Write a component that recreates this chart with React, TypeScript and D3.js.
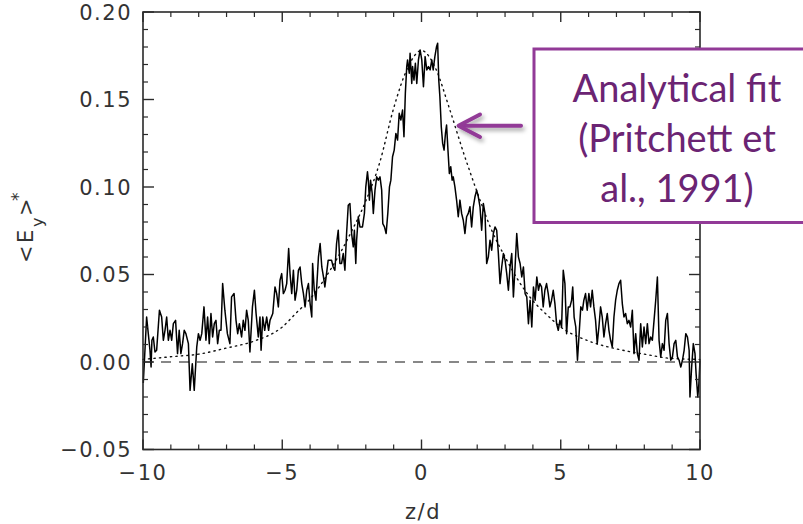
import React from 'react';
import * as d3 from 'd3';

// Simulated <E_y>* profile (z/d, value)
const zSim = [-9.99,-9.93,-9.87,-9.81,-9.75,-9.71,-9.68,-9.63,-9.57,-9.51,-9.41,-9.33,-9.27,-9.21,-9.15,-9.09,-9.03,-8.97,-8.91,-8.83,-8.76,-8.70,-8.64,-8.58,-8.52,-8.46,-8.37,-8.31,-8.23,-8.16,-8.07,-8.01,-7.95,-7.89,-7.81,-7.74,-7.68,-7.62,-7.56,-7.50,-7.44,-7.38,-7.32,-7.26,-7.20,-7.14,-7.06,-6.97,-6.88,-6.82,-6.73,-6.66,-6.60,-6.54,-6.46,-6.40,-6.34,-6.28,-6.22,-6.16,-6.07,-6.00,-5.94,-5.86,-5.80,-5.76,-5.70,-5.63,-5.56,-5.49,-5.44,-5.34,-5.26,-5.20,-5.14,-5.08,-5.02,-4.96,-4.90,-4.84,-4.77,-4.72,-4.66,-4.60,-4.54,-4.48,-4.42,-4.36,-4.30,-4.24,-4.18,-4.12,-4.06,-4.00,-3.94,-3.91,-3.85,-3.79,-3.70,-3.64,-3.58,-3.52,-3.47,-3.41,-3.35,-3.29,-3.23,-3.17,-3.11,-3.05,-2.99,-2.93,-2.87,-2.81,-2.75,-2.69,-2.63,-2.57,-2.51,-2.45,-2.41,-2.36,-2.33,-2.27,-2.21,-2.12,-2.05,-2.00,-1.94,-1.91,-1.87,-1.83,-1.77,-1.73,-1.67,-1.61,-1.55,-1.49,-1.43,-1.39,-1.33,-1.27,-1.21,-1.15,-1.10,-1.04,-0.98,-0.92,-0.86,-0.80,-0.74,-0.68,-0.63,-0.58,-0.53,-0.50,-0.44,-0.41,-0.35,-0.32,-0.27,-0.22,-0.17,-0.11,-0.05,0.01,0.07,0.13,0.19,0.25,0.31,
0.37,0.42,0.48,0.54,0.58,0.62,0.66,0.71,0.76,0.81,0.86,0.90,0.95,1.00,1.05,1.10,1.14,1.20,1.26,1.32,1.38,1.44,1.50,1.56,1.62,1.68,1.74,1.80,1.86,1.92,1.98,2.04,2.10,2.16,2.22,2.28,2.34,2.40,2.46,2.52,2.58,2.64,2.70,2.76,2.82,2.88,2.94,3.00,3.06,3.12,3.18,3.24,3.30,3.36,3.42,3.48,3.54,3.60,3.66,3.72,3.78,3.84,3.90,3.96,4.02,4.08,4.14,4.20,4.25,4.31,4.37,4.43,4.49,4.55,4.61,4.67,4.73,4.79,4.85,4.91,4.97,5.03,5.09,5.15,5.21,5.27,5.33,5.39,5.43,5.48,5.54,5.60,5.66,5.72,5.78,5.83,5.89,5.95,6.01,6.07,6.13,6.19,6.25,6.31,6.37,6.43,6.49,6.55,6.61,6.67,6.73,6.79,6.85,6.91,6.97,7.03,7.09,7.15,7.21,7.27,7.33,7.39,7.45,7.51,7.57,7.63,7.69,7.75,7.81,7.87,7.93,7.99,8.05,8.11,8.17,8.23,8.29,8.35,8.41,8.47,8.53,8.59,8.65,8.71,8.77,8.83,8.89,8.95,9.01,9.07,9.13,9.19,9.25,9.31,9.37,9.43,9.49,9.55,9.61,9.64,9.70,9.76,9.82,9.86,9.92,9.96,10.00];

const ySim = [-0.012,0.0067,0.0257,0.0162,0.0067,-0.0029,0.0124,0.0143,0.0057,0.0067,0.0296,0.0257,0.0124,0.0181,0.0257,0.0124,0.0181,0.0124,0.0219,0.0238,0.0048,0.0181,0.0048,0.0105,0.0181,0.0162,0.0105,-0.0162,-0.001,-0.0162,0.0086,0.0162,0.0124,0.0162,0.0315,0.0124,0.0257,0.0105,0.0277,0.0143,0.0219,0.0238,0.0105,0.0181,0.0181,0.0448,0.0296,0.0162,0.0105,0.0372,0.0391,0.0238,0.0162,0.0219,0.0143,0.0238,0.0181,0.0296,0.0238,0.0057,0.0315,0.0410,0.0277,0.0143,0.0257,0.0067,0.0257,0.0181,0.0257,0.0181,0.0238,0.0277,0.0429,0.0391,0.0315,0.0467,0.0505,0.0391,0.0410,0.0448,0.0648,0.0505,0.0391,0.0524,0.0353,0.0410,0.0524,0.0543,0.0448,0.0391,0.0315,0.0410,0.0448,0.0334,0.0257,0.0563,0.0410,0.0353,0.0601,0.0677,0.0543,0.0486,0.0429,0.0505,0.0582,0.0582,0.0582,0.0543,0.0524,0.0677,0.0753,0.0563,0.0563,0.0620,0.0524,0.0734,0.0896,0.0906,0.0734,0.0658,0.0753,0.0563,0.0696,0.0830,0.0772,0.0772,0.0849,0.1001,0.1087,0.1039,0.0925,0.1039,0.0963,0.0849,0.0982,0.1058,0.1039,0.1058,0.0982,0.0791,0.0772,0.0734,0.0849,0.1001,0.1039,0.1173,0.1211,0.1306,0.1268,0.1421,0.1383,0.1440,0.1287,0.1535,0.1688,0.1726,0.1650,0.1764,0.1592,0.1688,0.1611,0.1707,0.1592,0.1726,0.1783,0.1726,0.1573,0.1745,0.1669,0.1688,0.1669,
0.1726,0.1669,0.1745,0.1802,0.1821,0.1611,0.1516,0.1344,0.1249,0.1211,0.1306,0.1354,0.1211,0.1077,0.1116,0.1039,0.1058,0.1001,0.0925,0.0830,0.0925,0.0849,0.0810,0.0734,0.0830,0.0849,0.0887,0.0772,0.0887,0.0944,0.0982,0.0944,0.0887,0.0753,0.0906,0.0849,0.0563,0.0601,0.0696,0.0639,0.0734,0.0772,0.0753,0.0620,0.0448,0.0543,0.0620,0.0582,0.0505,0.0410,0.0543,0.0620,0.0372,0.0543,0.0734,0.0601,0.0563,0.0486,0.0543,0.0391,0.0372,0.0219,0.0353,0.0200,0.0429,0.0353,0.0486,0.0410,0.0448,0.0429,0.0315,0.0410,0.0448,0.0391,0.0315,0.0353,0.0410,0.0334,0.0219,0.0181,0.0238,0.0200,0.0524,0.0448,0.0162,0.0315,0.0315,0.0353,0.0429,0.0257,0.0200,0.0010,0.0162,0.0315,0.0296,0.0353,0.0391,0.0296,0.0391,0.0315,0.0410,0.0315,0.0238,0.0105,0.0200,0.0315,0.0257,0.0143,0.0219,0.0277,0.0181,0.0124,0.0086,0.0257,0.0353,0.0410,0.0448,0.0467,0.0334,0.0257,0.0277,0.0219,0.0238,0.0200,0.0296,0.0048,0.0162,0.0048,0.0010,0.0219,0.0086,0.0200,0.0105,0.0219,0.0105,0.0143,0.0124,0.0238,0.0353,0.0486,0.0124,0.0029,0.0105,0.0067,0.0238,0.0277,0.0105,0.0010,0.0029,0.0105,0.0124,0.0029,0.0010,-0.0029,0.0010,0.0067,0.0162,0.0143,0.0067,-0.0200,-0.0029,0.0105,0.0048,-0.0067,-0.0200,-0.0124,0.0010];

// Analytical fit (dotted)
const fitZ = [-10,-9,-8,-7,-6,-5,-4.5,-4,-3.5,-3,-2.5,-2,-1.5,-1,-0.5,0,0.5,1,1.5,2,2.5,3,3.5,4,4.5,5,6,7,8,9,10];
const fitY = [0.0015,0.003,0.0045,0.008,0.012,0.02,0.028,0.036,0.047,0.060,0.075,0.092,0.114,0.145,0.168,0.178,0.168,0.145,0.120,0.097,0.076,0.060,0.046,0.035,0.027,0.020,0.012,0.0075,0.0045,0.002,0.0015];

const xMajor = [-10, -5, 0, 5, 10];
const xTickLabels = ['\u221210', '\u22125', '0', '5', '10'];
const yMajor = [-0.05, 0, 0.05, 0.1, 0.15, 0.2];
const yTickLabels = ['\u22120.05', '0.00', '0.05', '0.10', '0.15', '0.20'];
const noteLines = ['Analytical fit', '(Pritchett et', 'al., 1991)'];

export default function App() {
  const L = 143, R = 700, T = 12, B = 449.5;
  const x = d3.scaleLinear().domain([-10, 10]).range([L, R]);
  const y = d3.scaleLinear().domain([-0.05, 0.2]).range([B, T]);

  const n = Math.min(zSim.length, ySim.length);
  const simPts: [number, number][] = d3.range(n).map(i => [zSim[i], ySim[i]]);
  const fitPts: [number, number][] = fitZ.map((z, i) => [z, fitY[i]]);
  const line = d3.line<[number, number]>().x(d => x(d[0])).y(d => y(d[1]));
  const fitLine = d3.line<[number, number]>().x(d => x(d[0])).y(d => y(d[1])).curve(d3.curveMonotoneX);

  const xMinor = d3.range(-9, 10, 1).filter(v => v % 5 !== 0);
  const yMinor = d3.range(-4, 20, 1).map(v => v / 100).filter((v, i) => Math.round(v * 100) % 5 !== 0);

  const axisColor = '#2a2a2a';
  const tickFont = { fontFamily: 'DejaVu Sans, Liberation Sans, sans-serif', fontSize: 21, fill: '#333', letterSpacing: 1.5 } as any;
  const purple = '#923a97';
  const textPurple = '#6b2473';

  return (
    <svg width={803} height={524} style={{ position: 'absolute', left: 0, top: 0, background: '#fff' }}>
      <defs>
        <filter id="shadow" x="-30%" y="-50%" width="160%" height="200%">
          <feDropShadow dx="2" dy="3" stdDeviation="2.2" floodColor="#000" floodOpacity="0.35" />
        </filter>
      </defs>
      <rect x={0} y={0} width={803} height={524} fill="#fff" />

      {/* zero dashed line */}
      <line x1={x(-10)} x2={x(10)} y1={y(0)} y2={y(0)} stroke="#111" strokeWidth={1.2} strokeDasharray="10,8" />
      {/* analytical fit */}
      <path d={fitLine(fitPts) || ''} fill="none" stroke="#111" strokeWidth={1.4} strokeDasharray="1.3,4.2" strokeLinecap="round" />
      {/* simulation */}
      <path d={line(simPts) || ''} fill="none" stroke="#000" strokeWidth={1.5} strokeLinejoin="round" />

      {/* frame */}
      <rect x={L} y={T} width={R - L} height={B - T} fill="none" stroke={axisColor} strokeWidth={1.6} />
      {/* x ticks */}
      {xMajor.map(v => (
        <g key={'xm' + v}>
          <line x1={x(v)} x2={x(v)} y1={B} y2={B - 10} stroke={axisColor} strokeWidth={1.4} />
          <line x1={x(v)} x2={x(v)} y1={T} y2={T + 10} stroke={axisColor} strokeWidth={1.4} />
        </g>
      ))}
      {xMinor.map(v => (
        <g key={'xn' + v}>
          <line x1={x(v)} x2={x(v)} y1={B} y2={B - 5} stroke={axisColor} strokeWidth={1.2} />
          <line x1={x(v)} x2={x(v)} y1={T} y2={T + 5} stroke={axisColor} strokeWidth={1.2} />
        </g>
      ))}
      {/* y ticks */}
      {yMajor.map(v => (
        <g key={'ym' + v}>
          <line x1={L} x2={L + 11} y1={y(v)} y2={y(v)} stroke={axisColor} strokeWidth={1.4} />
          <line x1={R} x2={R - 11} y1={y(v)} y2={y(v)} stroke={axisColor} strokeWidth={1.4} />
        </g>
      ))}
      {yMinor.map(v => (
        <g key={'yn' + v}>
          <line x1={L} x2={L + 5} y1={y(v)} y2={y(v)} stroke={axisColor} strokeWidth={1.2} />
          <line x1={R} x2={R - 5} y1={y(v)} y2={y(v)} stroke={axisColor} strokeWidth={1.2} />
        </g>
      ))}

      {/* tick labels */}
      {xMajor.map((v, i) => (
        <text key={'xl' + v} x={x(v)} y={480} textAnchor="middle" style={tickFont}>{xTickLabels[i]}</text>
      ))}
      {yMajor.map((v, i) => (
        <text key={'yl' + v} x={132} y={y(v) + 7.5} textAnchor="end" style={tickFont}>{yTickLabels[i]}</text>
      ))}
      <text x={423} y={519} textAnchor="middle" style={tickFont}>z/d</text>

      {/* y axis label <E_y>* */}
      <g transform="translate(33,263) rotate(-90)" style={tickFont}>
        <text x={0} y={0}>&lt;</text>
        <text x={20} y={0}>E</text>
        <text x={36} y={10} style={{ fontSize: 16 }}>y</text>
        <text x={47} y={0}>&gt;</text>
        <text x={62} y={-9} style={{ fontSize: 17 }}>*</text>
      </g>

      {/* annotation box */}
      <rect x={534} y={49} width={300} height={173.5} fill="#fff" stroke={purple} strokeWidth={3} />
      {noteLines.map((t, i) => (
        <text key={t} x={677} y={101.5 + i * 50} textAnchor="middle"
          style={{ fontFamily: 'Lato, Open Sans, sans-serif', fontSize: 38, fill: textPurple }}>{t}</text>
      ))}

      {/* arrow */}
      <g filter="url(#shadow)" stroke={purple} strokeWidth={4} strokeLinecap="round" fill="none">
        <line x1={521} y1={125.7} x2={460} y2={125.7} />
        <polyline points="480,114.5 458.5,125.7 480,137" strokeLinejoin="round" />
      </g>
    </svg>
  );
}
